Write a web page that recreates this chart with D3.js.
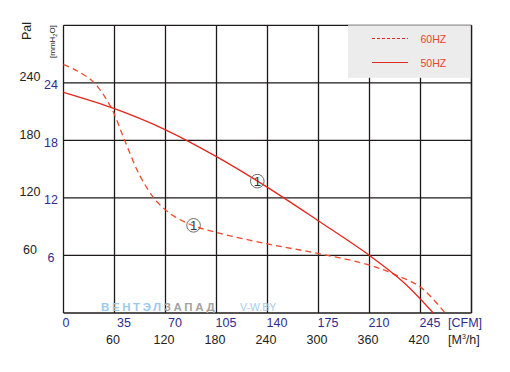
<!DOCTYPE html>
<html><head><meta charset="utf-8">
<script src="https://cdn.jsdelivr.net/npm/d3@7"></script>
<style>body{margin:0;background:#fff}svg{display:block}</style>
</head><body>
<svg id="c" width="510" height="372"></svg>
<script>
// ---- data (airflow m³/h, static pressure Pa) ----
const flow50 = [0, 60, 120, 180, 240, 300, 360, 400, 435];
const pres50 = [230, 213, 191, 163, 131, 96, 60, 32, 0];
const flow60 = [0, 15, 35, 55, 72, 90, 110, 130, 153, 180, 240, 300, 360, 390, 420, 449];
const pres60 = [259, 253, 241, 216, 180, 143, 116, 101, 91, 84, 72, 62, 50, 40, 27, 0];
const m3hTicks = [60, 120, 180, 240, 300, 360, 420];
const cfmTicks = [0, 35, 70, 105, 140, 175, 210, 245];
const paTicks = [60, 120, 180, 240];
const mmTicks = [6, 12, 18, 24];
const markers = [{flow: 228, pres: 137.5, label: "1"}, {flow: 153, pres: 91.4, label: "1"}];
const legendItems = [{name: "60HZ", dashed: true}, {name: "50HZ", dashed: false}];

const svg = d3.select("#c");
const L = 63.5, R = 471.5, T = 25.3, B = 313;
const x = d3.scaleLinear().domain([0, 480]).range([L, R]);
const y = d3.scaleLinear().domain([0, 300]).range([B, T]);
const font = "'Liberation Sans', Arial, sans-serif";
const gridC = "#1e1a1a";
const blue = "#2e2c8c";

// grid
const g = svg.append("g");
g.selectAll(".vg").data(d3.range(0, 481, 60)).join("line")
  .attr("x1", d => x(d)).attr("x2", d => x(d)).attr("y1", T).attr("y2", B)
  .attr("stroke", gridC).attr("stroke-width", 1.3);
g.selectAll(".hg").data(d3.range(0, 301, 60)).join("line")
  .attr("x1", L).attr("x2", R).attr("y1", d => y(d)).attr("y2", d => y(d))
  .attr("stroke", gridC).attr("stroke-width", 1.3);

// legend box
const lg = svg.append("g");
lg.append("rect").attr("x", 348).attr("y", T).attr("width", R - 348).attr("height", 52.5).attr("fill", "#ececec");
legendItems.forEach((d, i) => {
  const yy = 38.5 + i * 24;
  lg.append("line").attr("x1", 372).attr("x2", 408).attr("y1", yy).attr("y2", yy)
    .attr("stroke", "#e02a1c").attr("stroke-width", 1)
    .attr("stroke-dasharray", d.dashed ? "3,2" : null);
  lg.append("text").attr("x", 420.5).attr("y", yy + 4).text(d.name)
    .attr("font-family", font).attr("font-size", 10.5).attr("fill", "#e8462a");
});
// redraw right border over legend
svg.append("line").attr("x1", R).attr("x2", R).attr("y1", T).attr("y2", B).attr("stroke", gridC).attr("stroke-width", 1.3);

// watermark
const wm = svg.append("text").attr("x", 101).attr("y", 311).attr("font-family", font)
  .attr("font-size", 11.5).attr("font-weight", "bold").attr("letter-spacing", 2.6);
wm.append("tspan").text("ВЕНТЭЛ").attr("fill", "#9acbed");
wm.append("tspan").text("ЗАПАД").attr("fill", "#a3a3a3");
svg.append("text").attr("x", 240).attr("y", 311).text("V-W.BY").attr("font-family", font)
  .attr("font-size", 10.5).attr("fill", "#a9cbe4");

// curves
const line = d3.line().x(d => x(d[0])).y(d => y(d[1])).curve(d3.curveCatmullRom.alpha(0.5));
svg.append("path").datum(flow60.map((f, i) => [f, pres60[i]])).attr("d", line)
  .attr("fill", "none").attr("stroke", "#ee4a2c").attr("stroke-width", 1.3).attr("stroke-dasharray", "6,4");
svg.append("path").datum(flow50.map((f, i) => [f, pres50[i]])).attr("d", line)
  .attr("fill", "none").attr("stroke", "#e3261b").attr("stroke-width", 1.3);

// markers
markers.forEach(m => {
  svg.append("circle").attr("cx", x(m.flow)).attr("cy", y(m.pres)).attr("r", 6.8)
    .attr("fill", "none").attr("stroke", "#6a6a6a").attr("stroke-width", 1);
  svg.append("text").attr("x", x(m.flow)).attr("y", y(m.pres) + 4.5).text(m.label)
    .attr("text-anchor", "middle").attr("font-family", font).attr("font-size", 13).attr("fill", "#333");
});

// y labels
svg.selectAll(".pa").data(paTicks).join("text")
  .attr("x", 30).attr("y", d => y(d) - 1.5).text(d => d).attr("text-anchor", "middle")
  .attr("font-family", font).attr("font-size", 12.5).attr("fill", "#222");
svg.selectAll(".mm").data(mmTicks).join("text")
  .attr("x", 51).attr("y", d => y(d * 10) + 6.5).text(d => d).attr("text-anchor", "middle")
  .attr("font-family", font).attr("font-size", 12.5).attr("fill", blue);
svg.append("text").attr("transform", "translate(31,40) rotate(-90)").text("Pal")
  .attr("font-family", font).attr("font-size", 12.5).attr("fill", "#222");
const mmT = svg.append("text").attr("transform", "translate(55,58) rotate(-90)")
  .attr("font-family", font).attr("font-size", 8).attr("fill", "#222");
mmT.append("tspan").text("[mmH");
mmT.append("tspan").text("2").attr("font-size", 5.5).attr("dy", 2);
mmT.append("tspan").text("O]").attr("dy", -2);

// x labels
svg.selectAll(".cfm").data(cfmTicks).join("text")
  .attr("x", (d, i) => i === 0 ? x(0) + 2.5 : x(i * 60) + 9.5).attr("y", 327)
  .text(d => d).attr("text-anchor", "middle")
  .attr("font-family", font).attr("font-size", 12.5).attr("fill", blue);
svg.selectAll(".m3").data(m3hTicks).join("text")
  .attr("x", d => x(d) - 1.5).attr("y", 343.5).text(d => d).attr("text-anchor", "middle")
  .attr("font-family", font).attr("font-size", 12.5).attr("fill", "#222");
svg.append("text").attr("x", 448).attr("y", 327).text("[CFM]")
  .attr("font-family", font).attr("font-size", 12.5).attr("fill", blue);
const mh = svg.append("text").attr("x", 448).attr("y", 343.5)
  .attr("font-family", font).attr("font-size", 12.5).attr("fill", "#222");
mh.append("tspan").text("[M");
mh.append("tspan").text("3").attr("font-size", 7).attr("dy", -5);
mh.append("tspan").text("/h]").attr("dy", 5);
</script>
</body></html>
